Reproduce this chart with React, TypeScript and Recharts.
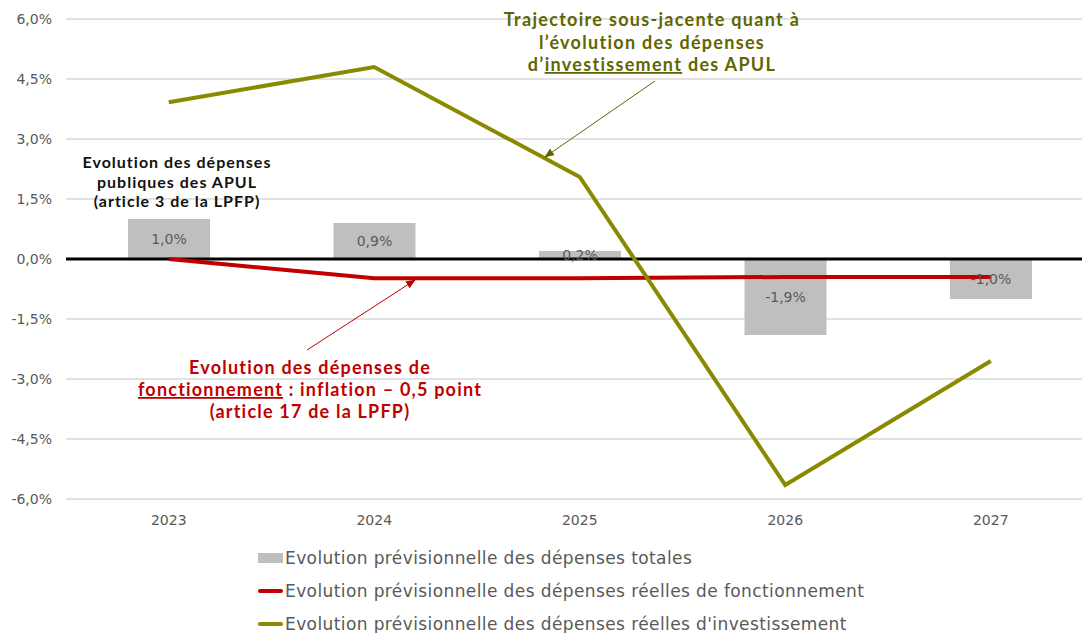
import { ComposedChart, Bar, Line, XAxis, YAxis, CartesianGrid, ReferenceLine, LabelList } from "recharts";

const years = ["2023", "2024", "2025", "2026", "2027"];
const totalValues = [1.0, 0.9, 0.2, -1.9, -1.0];
const fonctionnementValues = [0.0, -0.48, -0.48, -0.45, -0.45];
const investissementValues = [3.92, 4.8, 2.05, -5.65, -2.55];
const yTicks = [-6, -4.5, -3, -1.5, 0, 1.5, 3, 4.5, 6];
const legendLabels = [
    "Evolution prévisionnelle des dépenses totales",
    "Evolution prévisionnelle des dépenses réelles de fonctionnement",
    "Evolution prévisionnelle des dépenses réelles d'investissement",
];

const data = years.map((year, i) => ({
    year,
    total: totalValues[i],
    fonctionnement: fonctionnementValues[i],
    investissement: investissementValues[i],
}));

const fmt = (v: number) => v.toFixed(1).replace(".", ",") + "%";

const GREY = "#bfbfbf";
const RED = "#c00000";
const OLIVE = "#8a8a00";
const TEXT = "#595959";
const FONT = "'DejaVu Sans', sans-serif";
const BOLD = "Lato, sans-serif";

const Annotations = () => (
    <svg width={1082} height={633} style={{ position: "absolute", left: 0, top: 0, pointerEvents: "none" }}>
        <defs>
            <marker id="arrowGreen" markerWidth="10" markerHeight="8" refX="9" refY="4" orient="auto" markerUnits="userSpaceOnUse">
                <path d="M0,0 L10,4 L0,8 Z" fill="#5f6600" />
            </marker>
            <marker id="arrowRed" markerWidth="10" markerHeight="8" refX="9" refY="4" orient="auto" markerUnits="userSpaceOnUse">
                <path d="M0,0 L10,4 L0,8 Z" fill={RED} />
            </marker>
        </defs>
        <g fontFamily={BOLD} fontWeight={700} textAnchor="middle">
            <g fill="#111" fontSize={16} letterSpacing={1}>
                <text x={177} y={168}>Evolution des dépenses</text>
                <text x={177} y={188}>publiques des APUL</text>
                <text x={177} y={207}>(article 3 de la LPFP)</text>
            </g>
            <g fill="#5f6600" fontSize={18} letterSpacing={1.3}>
                <text x={652} y={26}>Trajectoire sous-jacente quant à</text>
                <text x={652} y={49}>l’évolution des dépenses</text>
                <text x={652} y={71}>
                    d’<tspan textDecoration="underline">investissement</tspan> des APUL
                </text>
            </g>
            <g fill={RED} fontSize={18} letterSpacing={1.2}>
                <text x={310} y={374}>Evolution des dépenses de</text>
                <text x={310} y={396}>
                    <tspan textDecoration="underline">fonctionnement</tspan> : inflation – 0,5 point
                </text>
                <text x={310} y={418}>(article 17 de la LPFP)</text>
            </g>
        </g>
        <line x1={655} y1={81} x2={545} y2={157} stroke="#5f6600" strokeWidth={1} markerEnd="url(#arrowGreen)" />
        <line x1={307} y1={350} x2={415} y2={280} stroke={RED} strokeWidth={1} markerEnd="url(#arrowRed)" />
    </svg>
);

const ChartLegend = () => (
    <div style={{ position: "absolute", left: 258, top: 541, fontFamily: FONT, fontSize: 17, letterSpacing: 0.4, color: TEXT }}>
        {legendLabels.map((label, i) => (
            <div key={label} style={{ display: "flex", alignItems: "center", height: 33 }}>
                {i === 0 ? (
                    <span style={{ display: "inline-block", width: 25, height: 10, background: GREY, marginRight: 2 }} />
                ) : (
                    <span
                        style={{
                            display: "inline-block",
                            width: 25,
                            height: 4,
                            borderRadius: 2,
                            background: i === 1 ? RED : OLIVE,
                            marginRight: 2,
                        }}
                    />
                )}
                {label}
            </div>
        ))}
    </div>
);

export default function App() {
    return (
        <div style={{ position: "fixed", left: 0, top: 0, width: 1082, height: 633, overflow: "hidden", background: "#fff" }}>
            <ComposedChart
                width={1100}
                height={540}
                data={data}
                margin={{ top: 19, right: 6.5, left: 0, bottom: 11 }}
                style={{ fontFamily: FONT }}
            >
                <CartesianGrid vertical={false} stroke="#d9d9d9" strokeWidth={1.5} />
                <XAxis
                    dataKey="year"
                    axisLine={false}
                    tickLine={false}
                    height={30}
                    tick={{ fill: TEXT, fontSize: 14 }}
                    tickMargin={10}
                />
                <YAxis
                    width={66}
                    domain={[-6, 6]}
                    ticks={yTicks}
                    tickFormatter={fmt}
                    axisLine={false}
                    tickLine={false}
                    tickMargin={8}
                    tick={{ fill: TEXT, fontSize: 14 }}
                />
                <Bar dataKey="total" fill={GREY} barSize={82} isAnimationActive={false}>
                    <LabelList dataKey="total" position="center" formatter={(v: any) => fmt(Number(v))} fill={TEXT} fontSize={14} />
                </Bar>
                <ReferenceLine y={0} stroke="#000" strokeWidth={3} />
                <Line
                    dataKey="fonctionnement"
                    stroke={RED}
                    strokeWidth={4}
                    dot={false}
                    type="linear"
                    isAnimationActive={false}
                />
                <Line
                    dataKey="investissement"
                    stroke={OLIVE}
                    strokeWidth={4}
                    dot={false}
                    type="linear"
                    isAnimationActive={false}
                />
            </ComposedChart>
            <Annotations />
            <ChartLegend />
        </div>
    );
}
